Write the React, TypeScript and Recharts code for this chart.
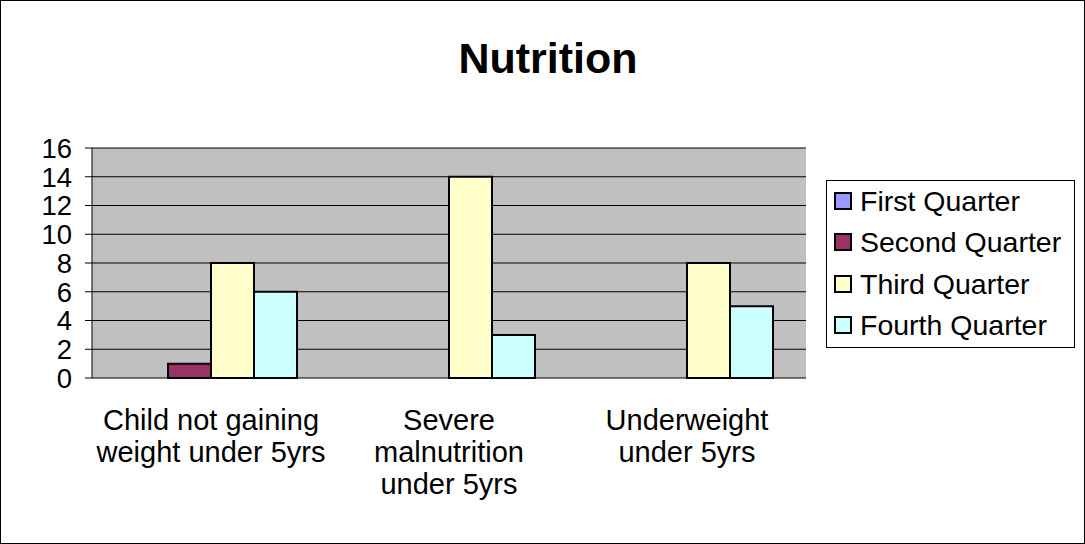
import React from "react";
import { BarChart, Bar, XAxis, YAxis, CartesianGrid } from "recharts";

const categories = [
  "Child not gaining\nweight under 5yrs",
  "Severe\nmalnutrition\nunder 5yrs",
  "Underweight\nunder 5yrs",
];
const firstQuarter = [0, 0, 0];
const secondQuarter = [1, 0, 0];
const thirdQuarter = [8, 14, 8];
const fourthQuarter = [6, 3, 5];
const yTicks = [0, 2, 4, 6, 8, 10, 12, 14, 16];
const boundaryTicks = [0, 1, 2, 3];

const seriesDefs = [
  { key: "first", name: "First Quarter", color: "#9999FF", values: firstQuarter },
  { key: "second", name: "Second Quarter", color: "#993366", values: secondQuarter },
  { key: "third", name: "Third Quarter", color: "#FFFFCC", values: thirdQuarter },
  { key: "fourth", name: "Fourth Quarter", color: "#CCFFFF", values: fourthQuarter },
];

const data = categories.map((c, i) => {
  const row: any = { name: c };
  seriesDefs.forEach((s) => (row[s.key] = s.values[i]));
  return row;
});

const FONT = "'Liberation Sans', Arial, sans-serif";

const CatTick = (props: any) => {
  const { x, y, payload } = props;
  const lines = String(payload.value).split("\n");
  return (
    <text x={x} y={y} textAnchor="middle" fontFamily={FONT} fontSize={29} fill="#000">
      {lines.map((l: string, i: number) => (
        <tspan key={i} x={x} dy={i === 0 ? 50 : 32}>
          {l}
        </tspan>
      ))}
    </text>
  );
};

const LegendBox = () => (
  <div
    style={{
      position: "absolute",
      left: 826,
      top: 180,
      width: 249,
      height: 168,
      boxSizing: "border-box",
      border: "1px solid #000",
      background: "#fff",
      fontFamily: FONT,
      fontSize: 28.5,
    }}
  >
    {seriesDefs.map((s, i) => (
      <div
        key={s.key}
        style={{
          position: "absolute",
          left: 7,
          top: i * 41.3,
          height: 40,
          display: "flex",
          alignItems: "center",
          whiteSpace: "nowrap",
        }}
      >
        <div
          style={{
            width: 18,
            height: 18,
            background: s.color,
            border: "2px solid #000",
            boxSizing: "border-box",
            marginRight: 8,
          }}
        />
        <span style={{ color: "#000", lineHeight: "40px" }}>{s.name}</span>
      </div>
    ))}
  </div>
);

export default function App() {
  return (
    <div
      style={{
        position: "absolute",
        left: 0,
        top: 0,
        width: 1085,
        height: 544,
        background: "#fff",
      }}
    >
      <div
        style={{
          position: "absolute",
          left: 0,
          top: 37,
          width: 1085,
          paddingLeft: 11,
          boxSizing: "border-box",
          textAlign: "center",
          fontFamily: FONT,
          fontWeight: "bold",
          fontSize: 43,
          lineHeight: "43px",
          color: "#000",
        }}
      >
        Nutrition
      </div>
      <div style={{ position: "absolute", left: 0, top: 0 }}>
        <BarChart
          width={1085}
          height={544}
          data={data}
          margin={{ top: 148, right: 279, left: 32, bottom: 0 }}
          barCategoryGap={33}
          barGap={0}
        >
          <CartesianGrid
            horizontal={true}
            vertical={false}
            stroke="#000"
            fill="#C0C0C0"
            fillOpacity={1}
          />
          <XAxis
            xAxisId={0}
            type="number"
            domain={[0, 3]}
            ticks={boundaryTicks}
            allowDataOverflow
            height={0}
            tick={false}
            tickLine={{ stroke: "#000" }}
            tickSize={7}
            axisLine={{ stroke: "#000" }}
          />
          <XAxis
            xAxisId="lab"
            dataKey="name"
            height={166}
            tickLine={false}
            axisLine={false}
            tickSize={0}
            interval={0}
            tick={<CatTick />}
          />
          <XAxis
            xAxisId="top"
            orientation="top"
            type="number"
            domain={[0, 3]}
            allowDataOverflow
            height={0}
            tick={false}
            tickLine={false}
            axisLine={{ stroke: "#808080", strokeWidth: 2 }}
          />
          <YAxis
            width={60}
            domain={[0, 16]}
            ticks={yTicks}
            interval={0}
            axisLine={{ stroke: "#000" }}
            tickLine={{ stroke: "#000" }}
            tickSize={7}
            tickMargin={13}
            tick={{ fontFamily: FONT, fontSize: 27.5, fill: "#000" }}
          />
          <YAxis
            yAxisId="r"
            orientation="right"
            width={0}
            domain={[0, 16]}
            tick={false}
            tickLine={false}
            axisLine={{ stroke: "#808080", strokeWidth: 2 }}
          />
          {seriesDefs.map((s) => (
            <Bar
              key={s.key}
              xAxisId="lab"
              dataKey={s.key}
              name={s.name}
              fill={s.color}
              stroke="#000"
              strokeWidth={2}
              isAnimationActive={false}
            />
          ))}
        </BarChart>
      </div>
      <LegendBox />
      <div
        style={{
          position: "absolute",
          left: 0,
          top: 0,
          width: 1085,
          height: 544,
          boxSizing: "border-box",
          border: "1px solid #000",
          pointerEvents: "none",
        }}
      />
    </div>
  );
}
